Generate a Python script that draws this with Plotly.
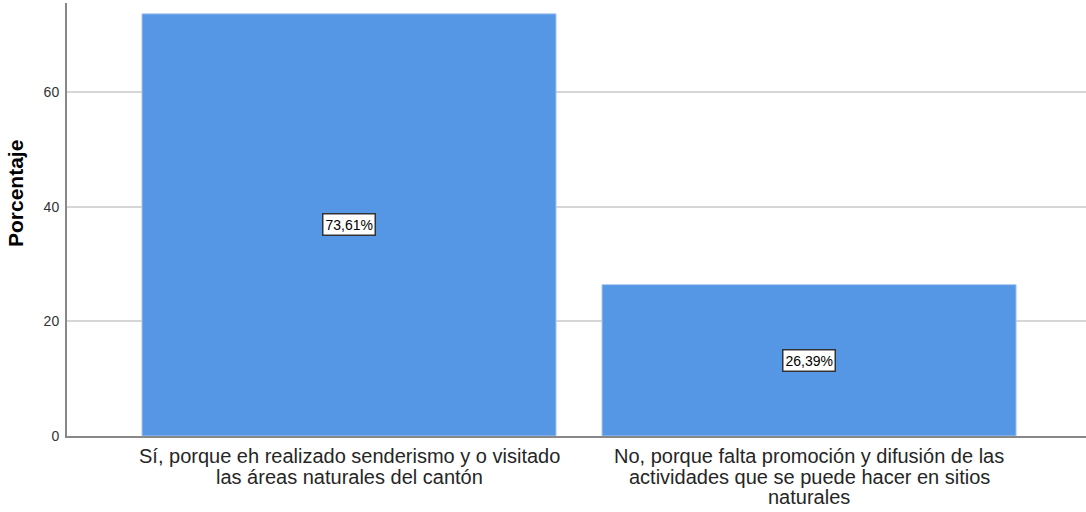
import plotly.graph_objects as go

categories = [
    ["Sí, porque eh realizado senderismo y o visitado",
     "las áreas naturales del cantón"],
    ["No, porque falta promoción y difusión de las",
     "actividades que se puede hacer en sitios",
     "naturales"],
]
values = [73.61, 26.39]
value_labels = ["73,61%", "26,39%"]
y_ticks = [0, 20, 40, 60]
y_title = "Porcentaje"

FONT = "Arial, Liberation Sans, sans-serif"
x_pos = list(range(len(categories)))

fig = go.Figure()
fig.add_trace(go.Bar(
    x=x_pos, y=values, width=0.9,
    marker=dict(color="#5596E5", line=dict(color="#A9C8F0", width=1)),
    hoverinfo="skip",
))

for xi, v, lab in zip(x_pos, values, value_labels):
    fig.add_annotation(
        x=xi, y=v / 2, text=lab, showarrow=False,
        font=dict(family=FONT, size=14, color="#000000"),
        bgcolor="#FFFFFF", bordercolor="#333333", borderwidth=1.5, borderpad=2,
    )

# category labels, one annotation per line for tight leading
line_centers = [456, 477, 497]
for xi, lines in zip(x_pos, categories):
    for li, line in enumerate(lines):
        fig.add_annotation(
            x=xi, xref="x", y=0, yref="paper", yanchor="middle",
            yshift=-(line_centers[li] - 436), text=line, showarrow=False,
            font=dict(family=FONT, size=20, color="#262626"),
        )

fig.add_annotation(
    x=0, xref="paper", xshift=-52, y=0, yref="paper", yshift=436 - 194,
    text="<b>" + y_title + "</b>", textangle=-90, showarrow=False,
    xanchor="center", yanchor="middle",
    font=dict(family=FONT, size=21, color="#000000"),
)

fig.update_layout(
    width=1086, height=512,
    margin=dict(l=67, r=0, t=3, b=76),
    plot_bgcolor="#FFFFFF", paper_bgcolor="#FFFFFF",
    showlegend=False,
    font=dict(family=FONT),
)
fig.update_xaxes(
    range=[-0.613, 1.602], tickmode="array", tickvals=x_pos, ticktext=["", ""],
    showgrid=False, showline=True, linecolor="#888888", linewidth=2, ticks="",
    zeroline=False,
)
fig.update_yaxes(
    range=[0, 75.5], tickmode="array", tickvals=y_ticks, ticktext=[str(t) for t in y_ticks],
    showgrid=True, gridcolor="#D6D6D6", gridwidth=1.5,
    showline=True, linecolor="#888888", linewidth=2, ticks="", zeroline=False,
    tickfont=dict(family=FONT, size=14, color="#333333"), ticklabelstandoff=3,
)

fig.write_html("out.html", config={"displayModeBar": False},
               post_script="document.body.style.margin='0';")
